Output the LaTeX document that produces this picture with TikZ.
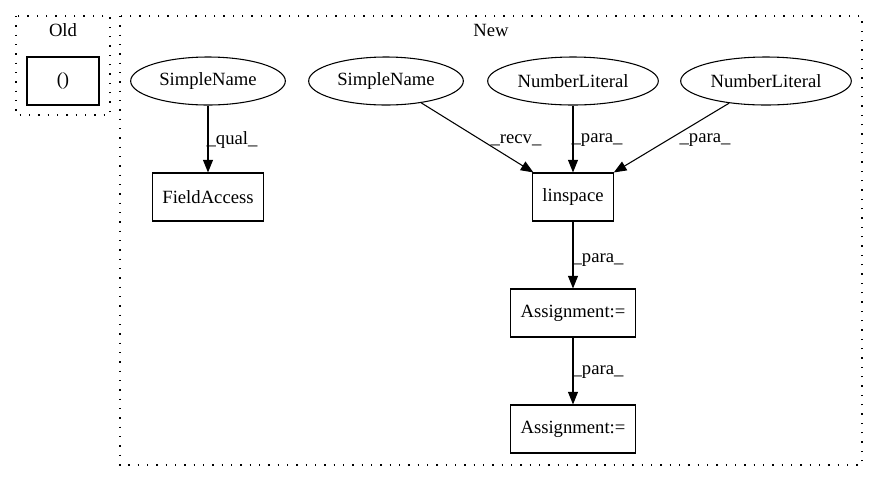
\documentclass[tikz,border=0pt]{standalone}
\usepackage{fontspec}
\setmainfont{Liberation Serif}
\usetikzlibrary{shapes.geometric,arrows.meta}

\begin{document}
\begin{tikzpicture}[x=0.75pt,y=-0.75pt,
    every node/.style={font=\fontsize{14}{16}\selectfont},
    ast/.style={draw,ellipse,line width=0.8pt,minimum height=36pt,inner sep=0pt},
    box/.style={draw,rectangle,line width=0.8pt,minimum height=36pt,inner sep=0pt},
    edge/.style={line width=0.8pt,-{Triangle[length=9.5pt,width=7.5pt]}},
    lbl/.style={inner sep=0pt},
    cluster/.style={line width=0.8pt,dash pattern=on 1pt off 6pt}]
      \useasboundingbox (0,0) rectangle (879,480);

      % clusters
      \draw[cluster] (16,16) rectangle (110,115);
      \draw[cluster] (120,16) rectangle (862,465);
      \node (oldlbl) at (63,30) {Old};
      \node (newlbl) at (491,30) {New};

      % old
      \node[box,minimum width=54pt] (oldcall) at (63,81) {()};

      % new
      \node[ast,minimum width=116pt] (sname1) at (208,81) {SimpleName};
      \node[ast,minimum width=116pt] (sname2) at (386,81) {SimpleName};
      \node[ast,minimum width=128pt] (numlit1) at (573,81) {NumberLiteral};
      \node[ast,minimum width=128pt] (numlit2) at (766,81) {NumberLiteral};
      \node[box,minimum width=83pt] (fieldacc) at (208,197) {FieldAccess};
      \node[box,minimum width=61pt] (linspace) at (573,197) {linspace};
      \node[box,minimum width=94pt] (assign1) at (573,313) {Assignment:=};
      \node[box,minimum width=94pt] (assign2) at (573,429) {Assignment:=};

      \draw[edge] (sname1) -- (fieldacc);
      \draw[edge] (sname2) -- (linspace);
      \draw[edge] (numlit1) -- (linspace);
      \draw[edge] (numlit2) -- (linspace);
      \draw[edge] (linspace) -- (assign1);
      \draw[edge] (assign1) -- (assign2);

      \node[lbl] (quallbl) at (232,140) {\_qual\_};
      \node[lbl] (recvlbl) at (516,140) {\_recv\_};
      \node[lbl] (paralbl1) at (597,140) {\_para\_};
      \node[lbl] (paralbl2) at (705,140) {\_para\_};
      \node[lbl] (paralbl3) at (598,260) {\_para\_};
      \node[lbl] (paralbl4) at (598,372) {\_para\_};
\end{tikzpicture}
\end{document}
